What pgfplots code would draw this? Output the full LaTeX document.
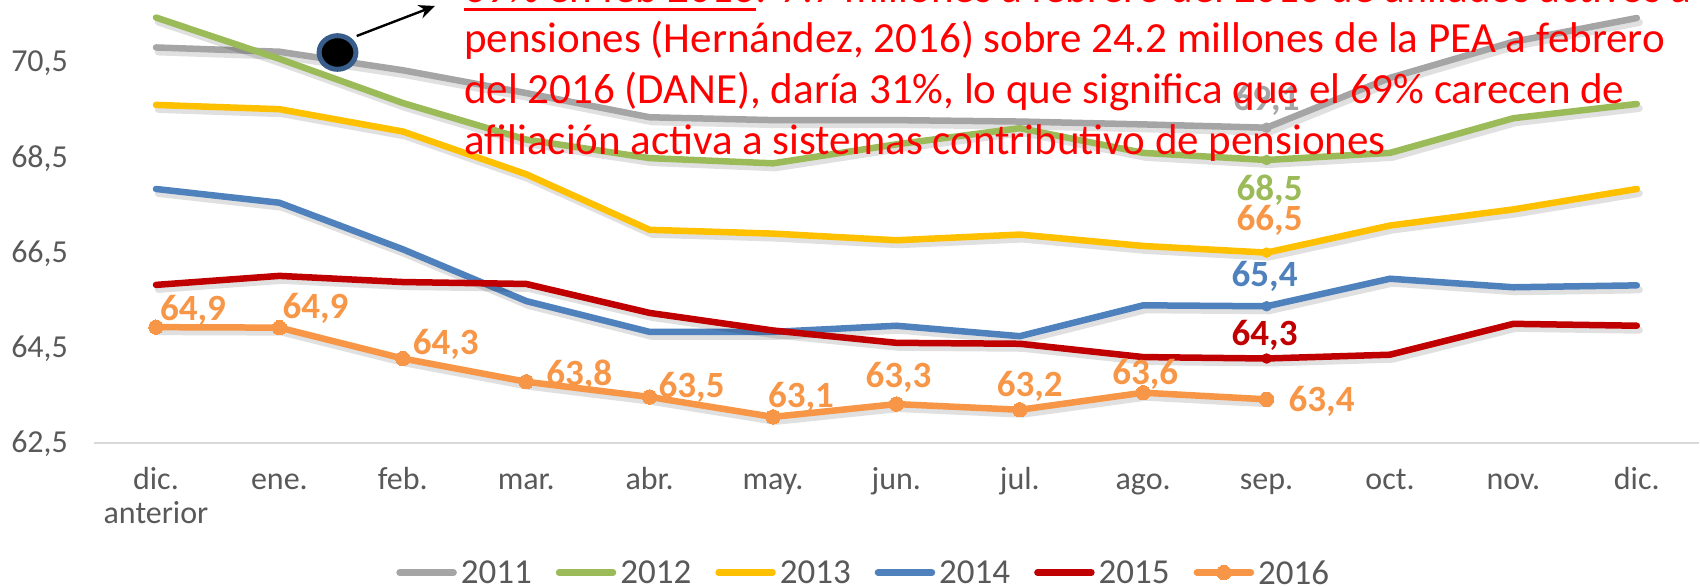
\documentclass[border=0pt]{standalone}
\usepackage{pgfplots}
\pgfplotsset{compat=1.18}
\usepackage{pgfplotstable}
\usepackage{fontspec}
\setmainfont{Carlito}
\usetikzlibrary{arrows.meta}

\definecolor{c2011}{HTML}{A5A5A5}
\definecolor{c2012}{HTML}{9BBB59}
\definecolor{c2013}{HTML}{FFC000}
\definecolor{c2014}{HTML}{4F81BD}
\definecolor{c2015}{HTML}{C00000}
\definecolor{c2016}{HTML}{F79646}
\definecolor{axisgray}{HTML}{595959}
\definecolor{gridgray}{HTML}{D9D9D9}
\definecolor{ringblue}{HTML}{385D8A}

\newcommand\labfont{\bfseries\fontsize{18.5}{18.5}\selectfont}
\newcommand\redfont{\fontsize{21.5}{24}\selectfont}

\pgfplotstableread{
x y2011 y2012 y2013 y2014 y2015
0 70.84 71.47 69.63 67.86 65.84
1 70.75 70.60 69.54 67.57 66.03
2 70.36 69.67 69.07 66.59 65.90
3 69.88 68.90 68.17 65.50 65.86
4 69.37 68.51 67.00 64.85 65.25
5 69.31 68.40 66.92 64.85 64.88
6 69.31 68.80 66.78 64.98 64.62
7 69.28 69.14 66.90 64.76 64.60
8 69.22 68.62 66.66 65.41 64.32
9 69.15 68.47 66.52 65.39 64.29
10 70.20 68.62 67.09 65.97 64.37
11 70.96 69.35 67.43 65.79 65.02
12 71.46 69.65 67.86 65.83 64.98
}\datamain

\pgfplotstableread{
x y lab dx dy
0 64.95 64,9 18.5 8.5
1 64.94 64,9 18 9.5
2 64.29 64,3 21.5 7
3 63.80 63,8 26.5 3.5
4 63.48 63,5 21 5
5 63.06 63,1 14 10
6 63.33 63,3 1 13.5
7 63.21 63,2 5 11.5
8 63.57 63,6 1 9
9 63.43 63,4 27.5 -1
}\dataseis

\pgfplotsset{
  ser/.style={color=#1, line width=3.25pt, line join=round, line cap=round, mark=none},
  shadow/.style={draw=black, draw opacity=0.12, line width=3.6pt, line join=round, line cap=round, mark=none, forget plot, xshift=1.2pt, yshift=-2.2pt},
}

\begin{document}
\begin{tikzpicture}
\useasboundingbox (-47.15pt,-71.75pt) rectangle (802.85pt,221.75pt);
\clip (-47.15pt,-71.75pt) rectangle (802.85pt,221.75pt);
\begin{axis}[
  scale only axis, width=802.1pt, height=221.75pt,
  xmin=-0.5, xmax=12.5, ymin=62.5, ymax=71.84,
  clip mode=individual,
  axis x line*=bottom, axis y line*=left,
  y axis line style={draw=none},
  x axis line style={draw=gridgray, line width=1pt},
  major tick length=0pt,
  xtick={0,...,12},
  xticklabels={{dic.\\anterior},{ene.\\~},{feb.\\~},{mar.\\~},{abr.\\~},{may.\\~},{jun.\\~},{jul.\\~},{ago.\\~},{sep.\\~},{oct.\\~},{nov.\\~},{dic.\\~}},
  xticklabel style={font=\fontsize{16}{16.5}\selectfont, text=axisgray, align=center, anchor=base, inner sep=0pt, yshift=-39.75pt},
  ytick={62.5,64.5,66.5,68.5,70.5},
  yticklabel style={font=\fontsize{16}{16}\selectfont, text=axisgray, anchor=east, inner sep=0pt, xshift=-13pt,
    /pgf/number format/.cd, fixed, fixed zerofill, precision=1, use comma, assume math mode=true},
  legend columns=6,
  legend style={draw=none, fill=none, at={(0.479,-0.291)}, anchor=center, inner sep=0pt,
    font=\fontsize{17.5}{17.5}\selectfont, nodes={inner sep=0pt, text depth=0pt, text=axisgray},
    /tikz/every odd column/.append style={column sep=2pt},
    /tikz/every even column/.append style={column sep=12pt}},
  legend image code/.code={\draw[mark repeat=2, mark phase=2, #1] plot coordinates {(0pt,0pt) (13.5pt,0pt) (27pt,0pt)};},
]
% 2011
\addplot[shadow] table[x=x,y=y2011] {\datamain};
\addplot[ser=c2011] table[x=x,y=y2011] {\datamain};
\addlegendentry{2011}
% 2012
\addplot[shadow] table[x=x,y=y2012] {\datamain};
\addplot[ser=c2012] table[x=x,y=y2012] {\datamain};
\addlegendentry{2012}
% 2013
\addplot[shadow] table[x=x,y=y2013] {\datamain};
\addplot[ser=c2013] table[x=x,y=y2013] {\datamain};
\addlegendentry{2013}
% 2014
\addplot[shadow] table[x=x,y=y2014] {\datamain};
\addplot[ser=c2014] table[x=x,y=y2014] {\datamain};
\addlegendentry{2014}
% 2015
\addplot[shadow] table[x=x,y=y2015] {\datamain};
\addplot[ser=c2015] table[x=x,y=y2015] {\datamain};
\addlegendentry{2015}
% 2016
\addplot[shadow] table[x=x,y=y] {\dataseis};
\addplot[ser=c2016, mark=*, mark size=3.6pt, mark options={solid, fill=c2016, draw=c2016, line width=0pt}] table[x=x,y=y] {\dataseis};
\addlegendentry{2016}

% markers and labels at sep.
\addplot[only marks, mark=*, mark size=2.4pt, color=c2011, forget plot,
  nodes near coords={69{,}1}, every node near coord/.append style={anchor=center, yshift=13.5pt, font=\labfont, text=c2011}]
  coordinates {(9,69.15)};
\addplot[only marks, mark=*, mark size=2.4pt, color=c2012, forget plot,
  nodes near coords={68{,}5}, every node near coord/.append style={anchor=center, xshift=1.5pt, yshift=-15pt, font=\labfont, text=c2012}]
  coordinates {(9,68.47)};
\addplot[only marks, mark=*, mark size=2.4pt, color=c2013, forget plot,
  nodes near coords={66{,}5}, every node near coord/.append style={anchor=center, xshift=1.5pt, yshift=16.3pt, font=\labfont, text=c2016}]
  coordinates {(9,66.52)};
\addplot[only marks, mark=*, mark size=2.4pt, color=c2014, forget plot,
  nodes near coords={65{,}4}, every node near coord/.append style={anchor=center, xshift=-1pt, yshift=14.7pt, font=\labfont, text=c2014}]
  coordinates {(9,65.39)};
\addplot[only marks, mark=*, mark size=2.4pt, color=c2015, forget plot,
  nodes near coords={64{,}3}, every node near coord/.append style={anchor=center, xshift=-1pt, yshift=11.7pt, font=\labfont, text=c2015}]
  coordinates {(9,64.29)};
% 2016 labels
\addplot[draw=none, mark=none, forget plot,
  visualization depends on={\thisrow{dx} \as \dx},
  visualization depends on={\thisrow{dy} \as \dy},
  point meta=explicit symbolic, nodes near coords,
  every node near coord/.append style={anchor=center, xshift=\dx pt, yshift=\dy pt, font=\labfont, text=c2016}]
  table[x=x, y=y, meta=lab] {\dataseis};
\end{axis}

% annotation
\draw[ringblue, fill=black, line width=2.5pt] (121.6pt,195.5pt) ellipse [x radius=9.2pt, y radius=8.4pt];
\draw[black, line width=1.2pt, -{Stealth[length=8pt,width=7pt]}] (131.2pt,203.75pt) -- (170.35pt,218.75pt);

\begin{scope}[every node/.style={inner sep=0pt, anchor=base west, text=red, font=\redfont}]
\node (u) at (184.85pt,220.5pt) {69\% en feb 2016};
\node at (u.base east) {: 7.7 millones a febrero del 2016 de afiliados activos a};
\draw[red, line width=1.5pt] ([yshift=-3.5pt]u.base west) -- ([yshift=-3.5pt]u.base east);
\node at (184.85pt,195.25pt) {pensiones (Hernández, 2016) sobre 24.2 millones de la PEA a febrero};
\node at (184.85pt,170pt) {del 2016 (DANE), daría 31\%, lo que significa que el 69\% carecen de};
\node at (184.85pt,144.5pt) {afiliación activa a sistemas contributivo de pensiones};
\end{scope}
\end{tikzpicture}
\end{document}
